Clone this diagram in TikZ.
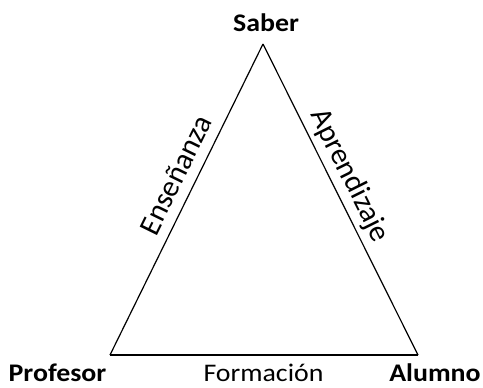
\documentclass[tikz,border=0pt]{standalone}
\usepackage{fontspec}
\setmainfont{Carlito}
\newfontfamily\widefont[FakeStretch=1.1]{Carlito}
\tikzset{
every picture/.style={
line width=0.9pt
}}

\begin{document}
\begin{tikzpicture}[x=0.75pt, y=-0.75pt,
vertex/.style = {font=\widefont\fontsize{19}{22}\selectfont\bfseries, anchor=base, inner sep=0pt},
bottomlabel/.style = {font=\widefont\fontsize{19}{22}\selectfont, anchor=base, inner sep=0pt},
edgelabel/.style = {font=\fontsize{22.5}{26}\selectfont, sloped, above,
  text height=0.7em, text depth=0.2em, inner sep=5.5pt}]

\useasboundingbox (0,0) rectangle (483,387);

\coordinate (saber) at (263,44);
\coordinate (profesor) at (110,355);
\coordinate (alumno) at (418,355);

\node [vertex] (saberlbl) at (266,31) {Saber};
\node [vertex] (profesorlbl) at (57.5,381) {Profesor};
\node [vertex] (alumnolbl) at (435,381) {Alumno};
\node [bottomlabel] (formacion) at (263.5,381) {Formación};

\draw (profesor) -- node [edgelabel, pos=0.55] (ensenanza) {Enseñanza} (saber);
\draw (saber) -- node [edgelabel, pos=0.45] (aprendizaje) {Aprendizaje} (alumno);
\draw (alumno) -- (profesor);
\end{tikzpicture}
\end{document}
